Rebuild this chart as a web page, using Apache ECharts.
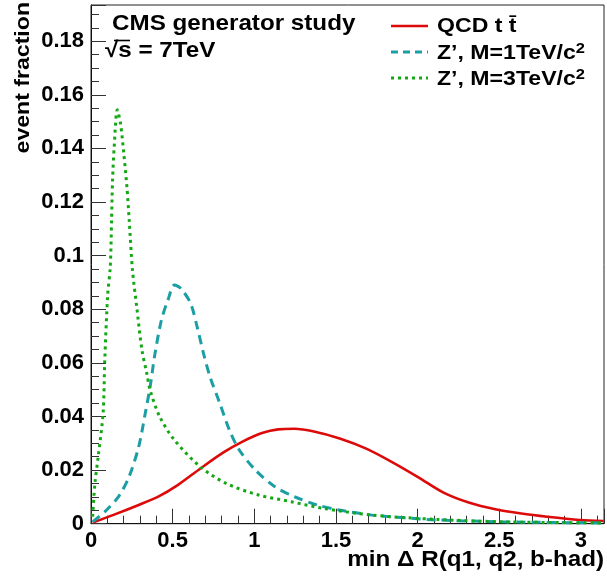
<!DOCTYPE html>
<html>
<head>
<meta charset="utf-8">
<script src="https://cdn.jsdelivr.net/npm/echarts@6/dist/echarts.min.js"></script>
<style>html,body{margin:0;padding:0;background:#fff;}#c{width:607px;height:577px;}</style>
</head>
<body>
<div id="c"></div>
<script>
// ---- data ----
const xRed = [0.010,0.134,0.292,0.412,0.531,0.670,0.809,0.928,1.047,1.146,1.245,1.365,1.523,1.682,1.841,2.000,2.159,2.318,2.476,2.635,2.794,2.993,3.14];
const yRed = [0.0004,0.0032,0.0070,0.0101,0.0144,0.0206,0.0265,0.0306,0.0338,0.0352,0.0354,0.0344,0.0318,0.0281,0.0231,0.0175,0.0116,0.0078,0.0054,0.0038,0.0026,0.0014,0.0010];

const xZ1 = [0.010,0.094,0.173,0.233,0.292,0.332,0.362,0.392,0.431,0.471,0.511,0.551,0.610,0.650,0.689,0.729,0.789,0.848,0.908,1.007,1.126,1.245,1.384,1.523,1.722,1.920,2.119,2.516,2.913,3.14];
const yZ1 = [0.0007,0.0050,0.0105,0.0175,0.0287,0.0411,0.0511,0.0635,0.0759,0.0834,0.0890,0.0877,0.0822,0.0734,0.0635,0.0548,0.0449,0.0349,0.0275,0.0200,0.0138,0.0101,0.0070,0.0051,0.0032,0.0022,0.0014,0.0007,0.0004,0.0003];

const xZ3 = [0.010,0.024,0.044,0.074,0.084,0.102,0.118,0.126,0.132,0.142,0.161,0.181,0.201,0.220,0.234,0.254,0.280,0.312,0.342,0.362,0.421,0.511,0.670,0.828,1.027,1.226,1.424,1.722,2.119,2.516,2.913,3.14];
const yZ3 = [0.0026,0.0150,0.0250,0.0411,0.0604,0.0852,0.0958,0.1132,0.1281,0.1405,0.1544,0.1492,0.1380,0.1256,0.1132,0.0946,0.0809,0.0648,0.0560,0.0498,0.0399,0.0312,0.0212,0.0150,0.0107,0.0082,0.0057,0.0032,0.0016,0.0007,0.0004,0.0003];

const seriesNames = ['QCD t t\u0304', 'Z\u2019, M=1TeV/c{s|2}', 'Z\u2019, M=3TeV/c{s|2}'];
const xTitle = 'min \u0394 R(q1, q2, b-had)';
const yTitle = 'event fraction';
const xMin = 0, xMax = Math.PI, xStep = 0.5;
const yMin = 0, yMax = 0.1935, yStep = 0.02;

// ---- styling ----
const FONT = '"Liberation Sans", Arial, Helvetica, sans-serif';
const colRed = '#dd0a0a', colZ1 = '#1b9ea4', colZ3 = '#13a813';
const pxPerX = 169.3;

const pairs = (xs, ys) => xs.map((x, i) => [x, ys[i]]);

const chart = echarts.init(document.getElementById('c'), null, {renderer: 'canvas'});
const txt = (o) => Object.assign({type: 'text', z: 100, scaleX: 1.1, style: {}}, o);
const supRich = {s: {fontSize: 15, fontWeight: 'bold', fontFamily: FONT, fill: '#000', padding: [0, 0, 9, 0], verticalAlign: 'bottom'}};

chart.setOption({
  animation: false,
  backgroundColor: '#ffffff',
  grid: {left: 91, top: 5, width: (xMax - xMin) * pxPerX, height: 518.7,
         show: true, borderColor: '#222', borderWidth: 1, backgroundColor: 'transparent'},
  xAxis: {
    type: 'value', min: xMin, max: xMax, interval: xStep,
    axisLine: {lineStyle: {color: '#111', width: 1}},
    axisTick: {inside: true, length: 15, lineStyle: {color: '#333'}},
    minorTick: {show: true, splitNumber: 5, length: 8, lineStyle: {color: '#333'}},
    splitLine: {show: false},
    axisLabel: {
      margin: 6, color: '#000', fontSize: 22, fontWeight: 'bold', fontFamily: FONT,
      formatter: v => Math.abs(v / xStep - Math.round(v / xStep)) < 1e-6 ? String(+v.toFixed(2)) : ''
    }
  },
  yAxis: {
    type: 'value', min: yMin, max: yMax, interval: yStep,
    axisLine: {show: true, lineStyle: {color: '#111', width: 1}},
    axisTick: {show: true, inside: true, length: 15, lineStyle: {color: '#333'}},
    minorTick: {show: true, splitNumber: 4, length: 8, lineStyle: {color: '#333'}},
    splitLine: {show: false},
    axisLabel: {
      margin: 7, color: '#000', fontSize: 22, fontWeight: 'bold', fontFamily: FONT,
      formatter: v => Math.abs(v / yStep - Math.round(v / yStep)) < 1e-6 ? String(+v.toFixed(2)) : ''
    }
  },
  series: [
    {name: 'red', type: 'line', data: pairs(xRed, yRed), smooth: 0.3, symbol: 'none',
     lineStyle: {color: colRed, width: 2.6}, z: 3},
    {name: 'z1', type: 'line', data: pairs(xZ1, yZ1), smooth: 0.3, symbol: 'none',
     lineStyle: {color: colZ1, width: 3, type: [9, 6]}, z: 4},
    {name: 'z3', type: 'line', data: pairs(xZ3, yZ3), smooth: 0.3, symbol: 'none',
     lineStyle: {color: colZ3, width: 3, type: [3, 4]}, z: 5}
  ],
  graphic: [
    txt({x: 112, y: 24, style: {text: 'CMS generator study', font: 'bold 22px ' + FONT, fill: '#000', verticalAlign: 'middle'}}),
    txt({x: 105, y: 51, style: {text: '\u221As = 7TeV', font: 'bold 22px ' + FONT, fill: '#000', verticalAlign: 'middle'}}),
    {type: 'line', z: 100, shape: {x1: 114, y1: 40.5, x2: 130, y2: 40.5}, style: {stroke: '#000', lineWidth: 1.6}},
    // legend
    {type: 'line', z: 100, shape: {x1: 391, y1: 26, x2: 428, y2: 26}, style: {stroke: colRed, lineWidth: 2.6}},
    {type: 'line', z: 100, shape: {x1: 391, y1: 52, x2: 428, y2: 52}, style: {stroke: colZ1, lineWidth: 3, lineDash: [7, 5]}},
    {type: 'line', z: 100, shape: {x1: 391, y1: 78, x2: 428, y2: 78}, style: {stroke: colZ3, lineWidth: 3, lineDash: [3, 4]}},
    txt({x: 437, y: 26, style: {text: seriesNames[0], font: 'bold 21px ' + FONT, fill: '#000', verticalAlign: 'middle'}}),
    txt({x: 437, y: 65, style: {text: seriesNames[1], font: 'bold 21px ' + FONT, fill: '#000', verticalAlign: 'bottom', rich: supRich}}),
    txt({x: 437, y: 91, style: {text: seriesNames[2], font: 'bold 21px ' + FONT, fill: '#000', verticalAlign: 'bottom', rich: supRich}}),
    // axis titles
    txt({x: 604, y: 560, style: {text: xTitle, font: 'bold 22px ' + FONT, fill: '#000', align: 'right', verticalAlign: 'middle'}}),
    txt({x: 23, y: 2, rotation: Math.PI / 2, style: {text: yTitle, font: 'bold 21px ' + FONT, fill: '#000', align: 'right', verticalAlign: 'middle'}})
  ]
});
</script>
</body>
</html>
